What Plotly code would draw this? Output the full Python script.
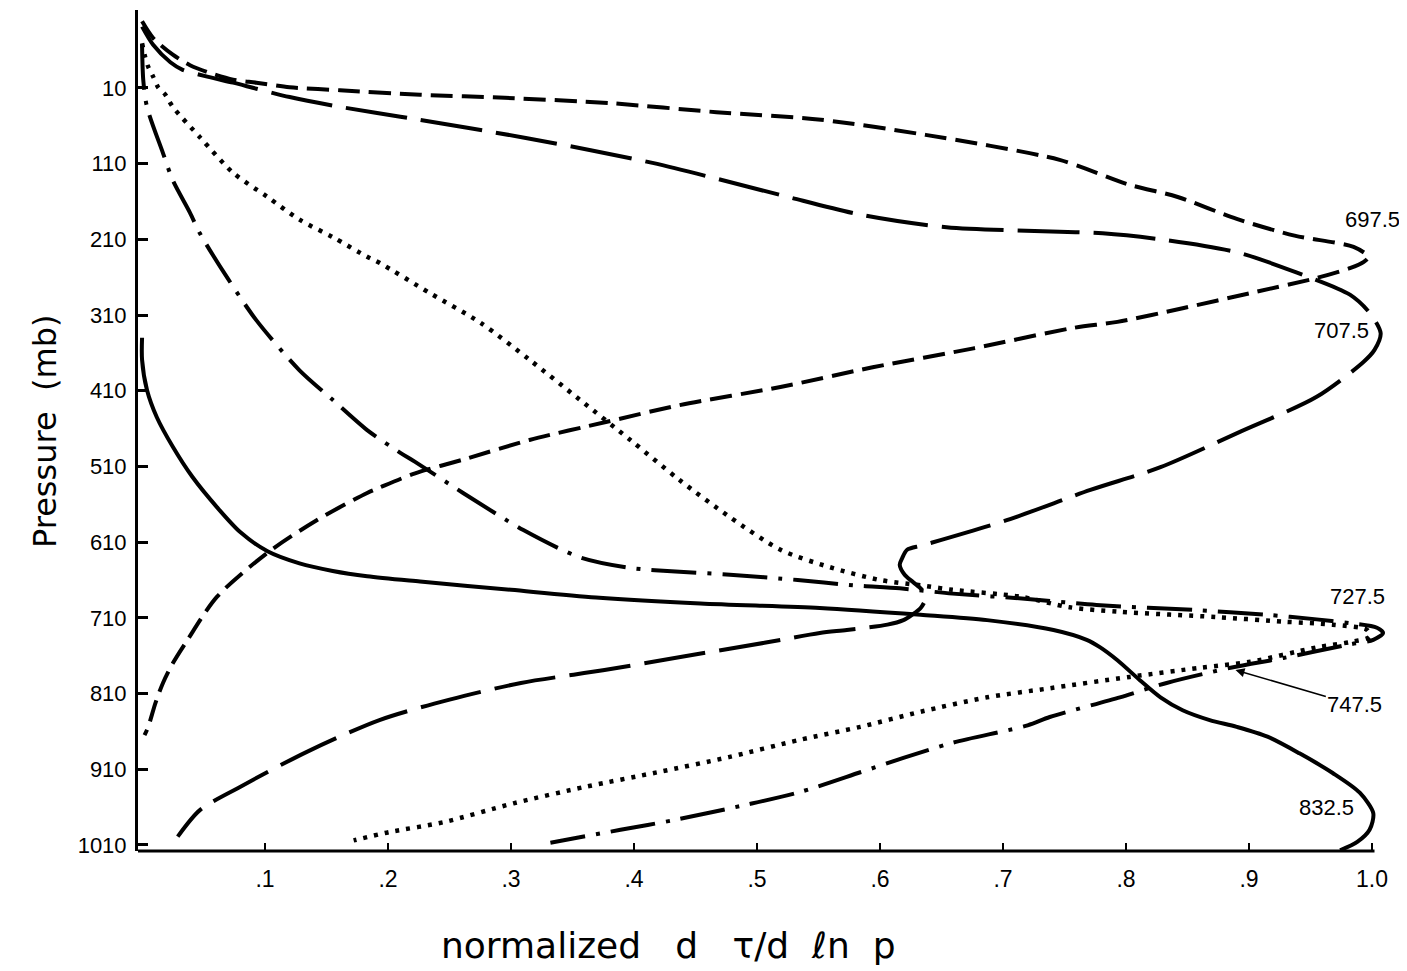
import plotly.graph_objects as go

# ---------------- data (x = normalized dtau/dlnp, p = pressure in mb) ----------------
ch697_x = [0.000, 0.009, 0.025, 0.039, 0.053, 0.074, 0.093, 0.120, 0.161, 0.226, 0.295, 0.380, 0.467,
           0.552, 0.637, 0.746, 0.801, 0.842, 0.890, 0.937, 0.985, 0.997, 0.993, 0.982, 0.955, 0.901,
           0.846, 0.793, 0.757, 0.676, 0.594, 0.519, 0.437, 0.378, 0.315, 0.261, 0.222, 0.193, 0.183,
           0.142, 0.102, 0.061, 0.037, 0.025, 0.017, 0.011, 0.005, 0.002]
ch697_p = [-78, -56, -34, -20, -11, -1, 3, 9, 13, 19, 23, 30, 42,
           52, 72, 105, 137, 154, 183, 205, 220, 233, 240, 248, 261, 281,
           301, 319, 327, 354, 379, 405, 429, 451, 475, 501, 519, 538, 545,
           581, 624, 682, 739, 770, 796, 822, 854, 865]

ch707_x = [0.000, 0.009, 0.023, 0.033, 0.053, 0.074, 0.093, 0.120, 0.161, 0.210, 0.312, 0.415, 0.518,
           0.586, 0.654, 0.746, 0.781, 0.833, 0.890, 0.939, 0.982, 0.998, 1.007, 1.002, 0.993, 0.955,
           0.893, 0.828, 0.771, 0.703, 0.635, 0.622, 0.618, 0.616, 0.620, 0.627, 0.634, 0.637, 0.633,
           0.626, 0.619, 0.606, 0.573, 0.551, 0.506, 0.433, 0.376, 0.308, 0.250, 0.193, 0.134, 0.080,
           0.047, 0.029]
ch707_p = [-71, -47, -24, -14, -5, 3, 11, 22, 35, 48, 76, 109, 151,
           178, 194, 200, 202, 211, 227, 254, 283, 307, 334, 356, 372, 418,
           464, 511, 541, 581, 614, 620, 631, 640, 653, 663, 673, 684, 697,
           706, 713, 719, 726, 730, 743, 763, 779, 796, 818, 845, 887, 933,
           964, 999]

ch747_x = [0.000, 0.001, 0.004, 0.017, 0.025, 0.039, 0.047, 0.069, 0.093, 0.128, 0.155, 0.183,
           0.210, 0.222, 0.261, 0.310, 0.356, 0.397, 0.437, 0.478, 0.533, 0.578, 0.616, 0.659, 0.720,
           0.776, 0.860, 0.915, 0.955, 0.982, 1.004, 1.009, 1.001, 0.982, 0.928, 0.885, 0.833, 0.795,
           0.738, 0.720, 0.659, 0.619, 0.584, 0.535, 0.491, 0.433, 0.389, 0.332]
ch747_p = [-47, 0, 35, 96, 132, 175, 202, 260, 317, 383, 422, 462,
           492, 504, 545, 594, 630, 644, 649, 653, 660, 667, 671, 678, 685,
           693, 700, 706, 712, 717, 723, 730, 739, 745, 763, 776, 796, 815,
           841, 852, 875, 895, 914, 940, 957, 977, 990, 1007]

ch727_x = [0.000, 0.002, 0.005, 0.009, 0.013, 0.019, 0.025, 0.047, 0.074, 0.102, 0.128, 0.155, 0.183,
           0.193, 0.234, 0.275, 0.315, 0.356, 0.397, 0.437, 0.478, 0.519, 0.559, 0.600, 0.633, 0.659,
           0.714, 0.754, 0.795, 0.874, 0.928, 0.968, 0.996, 0.998, 0.982, 0.955, 0.901, 0.860, 0.803,
           0.738, 0.687, 0.633, 0.584, 0.535, 0.477, 0.419, 0.361, 0.302, 0.245, 0.201, 0.172]
ch727_p = [-49, -34, -18, -5, 9, 19, 35, 75, 122, 154, 184, 207, 233,
           241, 281, 320, 369, 422, 475, 528, 577, 620, 643, 660, 667, 673,
           682, 696, 702, 709, 715, 719, 726, 735, 742, 749, 768, 776, 788,
           803, 815, 834, 854, 871, 894, 914, 933, 955, 980, 993, 1004]

ch832_x = [0.000, 0.000, 0.004, 0.012, 0.025, 0.041, 0.061, 0.080, 0.102, 0.128, 0.155, 0.183, 0.226,
           0.300, 0.369, 0.454, 0.551, 0.633, 0.687, 0.741, 0.768, 0.779, 0.793, 0.811, 0.828, 0.846,
           0.868, 0.890, 0.915, 0.941, 0.968, 0.990, 1.001, 0.998, 0.988, 0.974]
ch832_p = [340, 369, 409, 445, 484, 524, 564, 597, 622, 638, 648, 655, 662,
           673, 683, 691, 697, 706, 713, 726, 739, 749, 766, 792, 815, 832,
           845, 854, 867, 889, 915, 941, 968, 990, 1006, 1017]

y_ticks = [10, 110, 210, 310, 410, 510, 610, 710, 810, 910, 1010]
x_ticks = [0.1, 0.2, 0.3, 0.4, 0.5, 0.6, 0.7, 0.8, 0.9, 1.0]
x_ticktext = [".1", ".2", ".3", ".4", ".5", ".6", ".7", ".8", ".9", "1.0"]

labels = ["697.5", "707.5", "727.5", "747.5", "832.5"]
label_x = [1.000, 0.975, 0.988, 0.986, 0.963]
label_p = [184, 331, 682, 825, 961]
arrow_x, arrow_p = 0.889, 779

# ---------------- figure ----------------
W, H = 1407, 971
OFF = 8                      # page body margin of the browser
PL, PR, PT, PB = 138, 1390, 10, 851   # wanted plot box in window pixels
L, T = PL - OFF, PT - OFF
R = W - (PR - OFF)
B = H - (PB - OFF)
XR = [-0.0033, 1.0146]
YR = [1018, -93]
pw = PR - PL
ph = PB - PT


def px_to_paper(px, py):
    return (px - PL) / pw, (PB - py) / ph


fig = go.Figure()
styles = [
    (ch697_x, ch697_p, "22px,9px", 4),
    (ch707_x, ch707_p, "62px,14px", 4),
    (ch747_x, ch747_p, "45px,11px,4px,11px", 4),
    (ch727_x, ch727_p, "4px,7px", 4.5),
    (ch832_x, ch832_p, "solid", 4),
]
for xs, ps, dash, w in styles:
    fig.add_trace(go.Scatter(x=xs, y=ps, mode="lines",
                             line=dict(color="black", width=w, dash=dash, shape="spline", smoothing=0.8),
                             showlegend=False, hoverinfo="skip"))

lab_font = dict(family="Liberation Sans", size=22, color="black")
for t, lx, lp in zip(labels, label_x, label_p):
    if t == "747.5":
        fig.add_annotation(x=arrow_x, y=arrow_p, ax=lx, ay=lp, axref="x", ayref="y",
                           text=t, showarrow=True, arrowhead=2, arrowsize=1.2, arrowwidth=1.5,
                           arrowcolor="black", standoff=0, font=lab_font)
    else:
        fig.add_annotation(x=lx, y=lp, text=t, showarrow=False, font=lab_font)

yx, yy = px_to_paper(45, 432)
fig.add_annotation(xref="paper", yref="paper", x=yx, y=yy, xanchor="center", yanchor="middle",
                   text="Pressure\u00a0\u00a0(mb)", textangle=-90, showarrow=False,
                   font=dict(family="DejaVu Sans", size=32, color="black"))
tx, ty = px_to_paper(668, 945)
nb = "\u00a0"
fig.add_annotation(xref="paper", yref="paper", x=tx, y=ty, xanchor="center", yanchor="middle",
                   text="normalized" + nb * 3 + "d" + nb * 3 + "\u03c4/d" + nb * 2 + "\u2113n" + nb * 2 + "p",
                   showarrow=False,
                   font=dict(family="DejaVu Sans", size=36, color="black"))

fig.add_shape(type="line", xref="x", yref="paper", x0=XR[0], x1=1.002, y0=0, y1=0,
              line=dict(color="black", width=3))

fig.update_layout(
    width=W, height=H, autosize=False,
    margin=dict(l=L, r=R, t=T, b=B),
    paper_bgcolor="white", plot_bgcolor="white",
    xaxis=dict(range=XR, showgrid=False, zeroline=False, showline=False,
               tickmode="array", tickvals=x_ticks, ticktext=x_ticktext,
               ticks="inside", ticklen=8, tickwidth=2, tickcolor="black",
               ticklabelstandoff=12,
               tickfont=dict(family="Liberation Sans", size=23, color="black")),
    yaxis=dict(range=YR, showgrid=False, zeroline=False, showline=True, linecolor="black", linewidth=3,
               tickmode="array", tickvals=y_ticks, ticktext=[str(v) for v in y_ticks],
               ticks="inside", ticklen=10, tickwidth=2.5, tickcolor="black",
               ticklabelstandoff=4,
               tickfont=dict(family="Liberation Sans", size=22, color="black")),
)

fig.write_html("out.html")
